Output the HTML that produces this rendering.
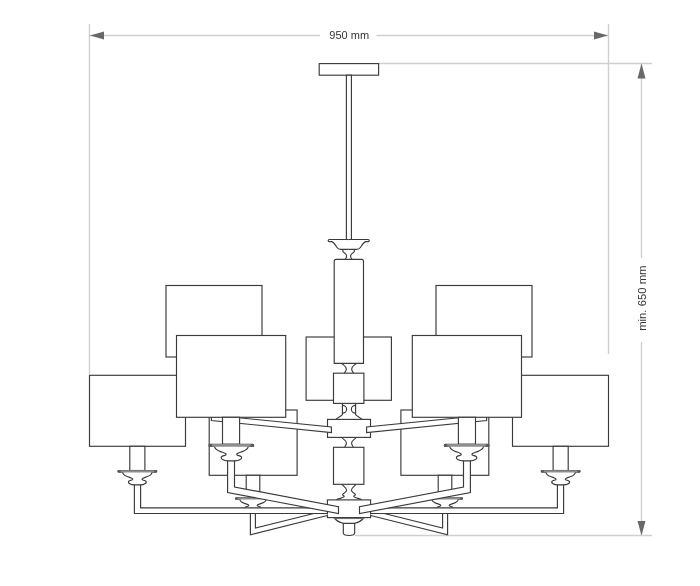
<!DOCTYPE html>
<html><head><meta charset="utf-8"><title>Chandelier dimensions</title>
<style>
html,body{margin:0;padding:0;background:#fff;}
body{width:700px;height:586px;overflow:hidden;font-family:"Liberation Sans",sans-serif;}
svg{display:block;}
svg{filter:grayscale(1);}
</style></head>
<body>
<svg width="700" height="586" viewBox="0 0 700 586">
<rect x="0" y="0" width="700" height="586" fill="#fff"/>
<path d="M90,35.5 L320,35.5 M376.5,35.5 L608,35.5" stroke="#cfcfcf" stroke-width="1.4" fill="none"/>
<path d="M89.5,24 L89.5,374 M608.5,24 L608.5,354" stroke="#cfcfcf" stroke-width="1.4" fill="none"/>
<path d="M378.6,63.5 L652,63.5 M355,535.5 L652,535.5" stroke="#cfcfcf" stroke-width="1.4" fill="none"/>
<path d="M641.5,64 L641.5,258 M641.5,342 L641.5,535" stroke="#cfcfcf" stroke-width="1.4" fill="none"/>
<path d="M90,35.5 L104,31.5 L104,39.5 Z" fill="#686868" stroke="none"/>
<path d="M608,35.5 L594,31.5 L594,39.5 Z" fill="#686868" stroke="none"/>
<path d="M641.5,63.5 L637.5,78.5 L645.5,78.5 Z" fill="#686868" stroke="none"/>
<path d="M641.5,535.5 L637.5,521 L645.5,521 Z" fill="#686868" stroke="none"/>
<text x="349.2" y="39" text-anchor="middle" font-family="Liberation Sans, sans-serif" font-size="11" fill="#333333">950 mm</text>
<text transform="translate(646.3,298.2) rotate(-90)" x="0" y="0" text-anchor="middle" font-family="Liberation Sans, sans-serif" font-size="11.3" fill="#333333">min. 650 mm</text>
<g fill="#fff" stroke="#3a3a3a" stroke-width="1.15" stroke-linejoin="miter">
<rect x="319.2" y="63.6" width="59.4" height="11.6" />
<rect x="346.4" y="75.2" width="5" height="164.8" />
<rect x="306.1" y="337" width="85.3" height="63.3" />
<path d="M343.7,249.4 C342.3,250.5 342.5,251.8 344.2,252.8 C346,254 346.5,254.5 346.5,255.5 L346.5,256.7 C346.5,257.7 345.8,258.3 345.2,259.3 L348.6,259.3 L348.6,249.4 Z" fill="#fff" stroke="none"/>
<path d="M343.7,249.4 C342.3,250.5 342.5,251.8 344.2,252.8 C346,254 346.5,254.5 346.5,255.5 L346.5,256.7 C346.5,257.7 345.8,258.3 345.2,259.3 L348.6,259.3 L348.6,249.4 Z" fill="#fff" stroke="none" transform="translate(697.2,0) scale(-1,1)"/>
<path d="M343.7,249.4 C342.3,250.5 342.5,251.8 344.2,252.8 C346,254 346.5,254.5 346.5,255.5 L346.5,256.7 C346.5,257.7 345.8,258.3 345.2,259.3" fill="none"/>
<path d="M343.7,249.4 C342.3,250.5 342.5,251.8 344.2,252.8 C346,254 346.5,254.5 346.5,255.5 L346.5,256.7 C346.5,257.7 345.8,258.3 345.2,259.3" fill="none" transform="translate(697.2,0) scale(-1,1)"/>
<path d="M341.7,363.3 C343,365 346.3,366 346.3,368.9 C346.3,371 345,372 344.4,373.2 L349,373.2 L349,363.3 Z" fill="#fff" stroke="none"/>
<path d="M341.7,363.3 C343,365 346.3,366 346.3,368.9 C346.3,371 345,372 344.4,373.2 L349,373.2 L349,363.3 Z" fill="#fff" stroke="none" transform="translate(698,0) scale(-1,1)"/>
<path d="M341.7,363.3 C343,365 346.3,366 346.3,368.9 C346.3,371 345,372 344.4,373.2" fill="none"/>
<path d="M341.7,363.3 C343,365 346.3,366 346.3,368.9 C346.3,371 345,372 344.4,373.2" fill="none" transform="translate(698,0) scale(-1,1)"/>
<path d="M342.4,403.4 L342.4,414.7 C341,416.5 337.5,417.5 336,419.4 L349,419.4 L349,403.4 Z" fill="#fff" stroke="none"/>
<path d="M342.4,403.4 L342.4,414.7 C341,416.5 337.5,417.5 336,419.4 L349,419.4 L349,403.4 Z" fill="#fff" stroke="none" transform="translate(698,0) scale(-1,1)"/>
<path d="M342.4,403.4 L342.4,414.7 C341,416.5 337.5,417.5 336,419.4" fill="none"/>
<path d="M342.4,403.4 L342.4,414.7 C341,416.5 337.5,417.5 336,419.4" fill="none" transform="translate(698,0) scale(-1,1)"/>
<path d="M342.4,405.3 A4.2,3.9 0 0 1 342.4,413.1 M355.6,405.3 A4.2,3.9 0 0 0 355.6,413.1" fill="none"/>
<path d="M342,437.4 C343,439.5 346.4,440.5 346.4,442.9 C346.4,445 345.2,446 344.6,447.3 L349,447.3 L349,437.4 Z" fill="#fff" stroke="none"/>
<path d="M342,437.4 C343,439.5 346.4,440.5 346.4,442.9 C346.4,445 345.2,446 344.6,447.3 L349,447.3 L349,437.4 Z" fill="#fff" stroke="none" transform="translate(698,0) scale(-1,1)"/>
<path d="M342,437.4 C343,439.5 346.4,440.5 346.4,442.9 C346.4,445 345.2,446 344.6,447.3" fill="none"/>
<path d="M342,437.4 C343,439.5 346.4,440.5 346.4,442.9 C346.4,445 345.2,446 344.6,447.3" fill="none" transform="translate(698,0) scale(-1,1)"/>
<path d="M342.2,484.3 C343,486.5 346.6,487.5 346.6,490.3 C346.6,492.5 343,493 342.6,494.4 C342.3,495.5 344.6,495.5 344.2,496.6 C343.5,498 338,498.5 336.2,499.9 L349,499.9 L349,484.3 Z" fill="#fff" stroke="none"/>
<path d="M342.2,484.3 C343,486.5 346.6,487.5 346.6,490.3 C346.6,492.5 343,493 342.6,494.4 C342.3,495.5 344.6,495.5 344.2,496.6 C343.5,498 338,498.5 336.2,499.9 L349,499.9 L349,484.3 Z" fill="#fff" stroke="none" transform="translate(698,0) scale(-1,1)"/>
<path d="M342.2,484.3 C343,486.5 346.6,487.5 346.6,490.3 C346.6,492.5 343,493 342.6,494.4 C342.3,495.5 344.6,495.5 344.2,496.6 C343.5,498 338,498.5 336.2,499.9" fill="none"/>
<path d="M342.2,484.3 C343,486.5 346.6,487.5 346.6,490.3 C346.6,492.5 343,493 342.6,494.4 C342.3,495.5 344.6,495.5 344.2,496.6 C343.5,498 338,498.5 336.2,499.9" fill="none" transform="translate(698,0) scale(-1,1)"/>
<path d="M334.3,517.6 C336,520.5 340,522.5 343.3,523.3 L349,523.3 L349,517.6 Z" fill="#fff" stroke="none"/>
<path d="M334.3,517.6 C336,520.5 340,522.5 343.3,523.3 L349,523.3 L349,517.6 Z" fill="#fff" stroke="none" transform="translate(698,0) scale(-1,1)"/>
<path d="M334.3,517.6 C336,520.5 340,522.5 343.3,523.3" fill="none"/>
<path d="M334.3,517.6 C336,520.5 340,522.5 343.3,523.3" fill="none" transform="translate(698,0) scale(-1,1)"/>
<path d="M333.8,518.5 L364.2,518.5" fill="none" stroke="#777"/>
<path d="M348.7,239.5 L329.2,239.5 Q328.2,239.5 328.2,240.5 L328.2,240.7 Q328.2,241.6 329.2,241.6 L331.7,241.6 C334,242.2 335.3,245 336.8,247.3 C337.8,248.9 339.2,249.4 341,249.4 L348.7,249.4 L348.7,249.4 L348.7,239.5 Z" fill="#fff" stroke="none"/>
<path d="M348.7,239.5 L329.2,239.5 Q328.2,239.5 328.2,240.5 L328.2,240.7 Q328.2,241.6 329.2,241.6 L331.7,241.6 C334,242.2 335.3,245 336.8,247.3 C337.8,248.9 339.2,249.4 341,249.4 L348.7,249.4 L348.7,249.4 L348.7,239.5 Z" fill="#fff" stroke="none" transform="translate(697.4,0) scale(-1,1)"/>
<path d="M348.7,239.5 L329.2,239.5 Q328.2,239.5 328.2,240.5 L328.2,240.7 Q328.2,241.6 329.2,241.6 L331.7,241.6 C334,242.2 335.3,245 336.8,247.3 C337.8,248.9 339.2,249.4 341,249.4 L348.7,249.4" fill="none"/>
<path d="M348.7,239.5 L329.2,239.5 Q328.2,239.5 328.2,240.5 L328.2,240.7 Q328.2,241.6 329.2,241.6 L331.7,241.6 C334,242.2 335.3,245 336.8,247.3 C337.8,248.9 339.2,249.4 341,249.4 L348.7,249.4" fill="none" transform="translate(697.4,0) scale(-1,1)"/>
<path d="M334.2,363.3 L334.2,261.3 Q334.2,259.3 336.2,259.3 L361.5,259.3 Q363.5,259.3 363.5,261.3 L363.5,363.3 Z" fill="#fff"/>
<rect x="333.5" y="373.2" width="30.4" height="30.2" />
<rect x="327.5" y="419.4" width="43" height="18" />
<rect x="333.5" y="447.3" width="30.4" height="37" />
<rect x="327.4" y="499.9" width="43.2" height="17.7" />
<path d="M343.3,523.3 L343.3,533 Q343.3,535.4 349,535.5 Q354.7,535.4 354.7,533 L354.7,523.3 Z" fill="#fff"/>
<defs><g id="lh">
<rect x="166" y="285.5" width="96" height="71.5" />
<rect x="89.5" y="375.3" width="96" height="71" />
<rect x="209.2" y="410" width="87.9" height="65.3" />
<path d="M211.4,415 L331.4,427 L331.4,432.5 L211.4,420.5 Z" fill="#fff"/>
<rect x="176.5" y="335.5" width="109.2" height="81.8" />
<rect x="222.5" y="417.3" width="17.1" height="27" />
<rect x="129.8" y="446.3" width="15.1" height="24.2" />
<rect x="246.2" y="475.3" width="13.6" height="19.7" />
<path d="M250.4,512 L250.4,534.8 L327.4,515.5 L327.4,512 Z" fill="#fff" stroke="none"/>
<path d="M250.4,513.5 L250.4,534.8 L327.4,515.5" fill="none"/>
<path d="M255.4,513.5 L255.4,528.1 L313.8,513.5" fill="none"/>
<path d="M-18.6,0 L18.6,0 Q19.45,0 19.45,0.85 Q19.45,1.7 18.6,1.7 L14.65,1.7 C14.65,3.5 12.5,5.2 9.5,6.3 C7,7.2 4.6,7.6 4.6,8.7 C4.6,9.6 6.5,9.6 7.8,10.2 C9.4,10.9 9.3,12.4 7.6,13.2 C6.4,14 4.5,14.3 2.95,14.3 L-2.95,14.3 C-4.5,14.3 -6.4,14 -7.6,13.2 C-9.3,12.4 -9.4,10.9 -7.8,10.2 C-6.5,9.6 -4.6,9.6 -4.6,8.7 C-4.6,7.6 -7,7.2 -9.5,6.3 C-12.5,5.2 -14.65,3.5 -14.65,1.7 L-18.6,1.7 Q-19.45,1.7 -19.45,0.85 Q-19.45,0 -18.6,0 Z" transform="translate(253,497.7) scale(0.9)" vector-effect="non-scaling-stroke" fill="#fff"/><rect x="235.8" y="497.4" width="34.41" height="2.13" rx="1" fill="#8e8e8e" stroke="none"/><rect x="235.3" y="497.4" width="2.7" height="2.13" rx="1" fill="#5a5a5a" stroke="none"/><rect x="268" y="497.4" width="2.7" height="2.13" rx="1" fill="#5a5a5a" stroke="none"/>
<path d="M134.4,484 L134.4,513.5 L327.4,513.5 L327.4,507.8 L140.6,507.8 L140.6,484 Z" fill="#fff"/>
<path d="M-18.6,0 L18.6,0 Q19.45,0 19.45,0.85 Q19.45,1.7 18.6,1.7 L14.65,1.7 C14.65,3.5 12.5,5.2 9.5,6.3 C7,7.2 4.6,7.6 4.6,8.7 C4.6,9.6 6.5,9.6 7.8,10.2 C9.4,10.9 9.3,12.4 7.6,13.2 C6.4,14 4.5,14.3 2.95,14.3 L-2.95,14.3 C-4.5,14.3 -6.4,14 -7.6,13.2 C-9.3,12.4 -9.4,10.9 -7.8,10.2 C-6.5,9.6 -4.6,9.6 -4.6,8.7 C-4.6,7.6 -7,7.2 -9.5,6.3 C-12.5,5.2 -14.65,3.5 -14.65,1.7 L-18.6,1.7 Q-19.45,1.7 -19.45,0.85 Q-19.45,0 -18.6,0 Z" transform="translate(137.35,470.5) scale(1)" vector-effect="non-scaling-stroke" fill="#fff"/><rect x="118.2" y="470.2" width="38.3" height="2.3" rx="1" fill="#8e8e8e" stroke="none"/><rect x="117.7" y="470.2" width="3" height="2.3" rx="1" fill="#5a5a5a" stroke="none"/><rect x="154" y="470.2" width="3" height="2.3" rx="1" fill="#5a5a5a" stroke="none"/>
<path d="M227.6,458 L227.6,492.5 L338.5,513.57 L338.5,506.76 L234.5,487 L234.5,458 Z" fill="#fff"/>
<path d="M-18.6,0 L18.6,0 Q19.45,0 19.45,0.85 Q19.45,1.7 18.6,1.7 L14.65,1.7 C14.65,3.5 12.5,5.2 9.5,6.3 C7,7.2 4.6,7.6 4.6,8.7 C4.6,9.6 6.5,9.6 7.8,10.2 C9.4,10.9 9.3,12.4 7.6,13.2 C6.4,14 4.5,14.3 2.95,14.3 L-2.95,14.3 C-4.5,14.3 -6.4,14 -7.6,13.2 C-9.3,12.4 -9.4,10.9 -7.8,10.2 C-6.5,9.6 -4.6,9.6 -4.6,8.7 C-4.6,7.6 -7,7.2 -9.5,6.3 C-12.5,5.2 -14.65,3.5 -14.65,1.7 L-18.6,1.7 Q-19.45,1.7 -19.45,0.85 Q-19.45,0 -18.6,0 Z" transform="translate(231.4,444.4) scale(1.15)" vector-effect="non-scaling-stroke" fill="#fff"/><rect x="209.33" y="444.1" width="44.13" height="2.55" rx="1" fill="#8e8e8e" stroke="none"/><rect x="208.83" y="444.1" width="3.45" height="2.55" rx="1" fill="#5a5a5a" stroke="none"/><rect x="250.52" y="444.1" width="3.45" height="2.55" rx="1" fill="#5a5a5a" stroke="none"/>
</g></defs>
<use href="#lh"/>
<use href="#lh" transform="translate(698,0) scale(-1,1)"/>
</g>
</svg>
</body></html>
